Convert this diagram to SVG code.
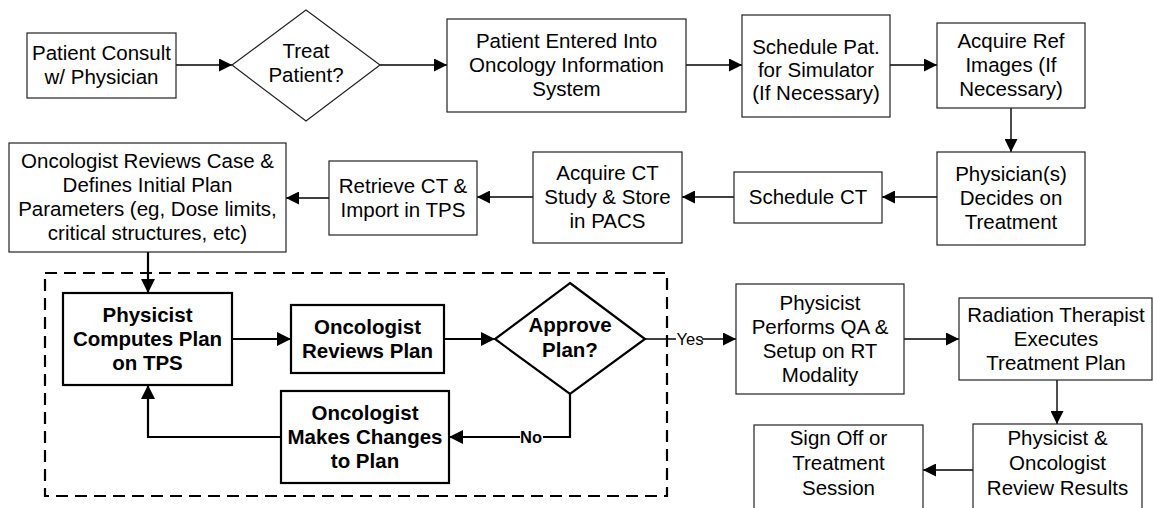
<svg xmlns="http://www.w3.org/2000/svg" width="1153" height="508" viewBox="0 0 1153 508">
  <style>
    .box { fill: #fff; stroke: #222; stroke-width: 1.2; }
    .bbox { fill: #fff; stroke: #000; stroke-width: 2.2; }
    .t { font-family: "Liberation Sans", Arial, sans-serif; font-size: 20.5px; fill: #000; text-anchor: middle; }
    .tb { font-family: "Liberation Sans", Arial, sans-serif; font-size: 20.5px; font-weight: bold; fill: #000; text-anchor: middle; }
    .lbl { font-family: "Liberation Sans", Arial, sans-serif; font-size: 16.5px; fill: #000; text-anchor: middle; }
    .lblb { font-family: "Liberation Sans", Arial, sans-serif; font-size: 16.5px; font-weight: bold; fill: #000; text-anchor: middle; }
    .c { fill: none; stroke: #000; stroke-width: 1.4; marker-end: url(#arr); }
    .cb { fill: none; stroke: #000; stroke-width: 2.2; marker-end: url(#arrB); }
    .dash { fill: none; stroke: #000; stroke-width: 2.2; stroke-dasharray: 12 7; }
  </style>
  <defs>
    <marker id="arr" markerUnits="userSpaceOnUse" markerWidth="14" markerHeight="13" refX="13" refY="6.5" orient="auto">
      <path d="M0,0 L13,6.5 L0,13 Z" fill="#000"/>
    </marker>
    <marker id="arrB" markerUnits="userSpaceOnUse" markerWidth="15" markerHeight="14" refX="14" refY="7" orient="auto">
      <path d="M0,0 L14,7 L0,14 Z" fill="#000"/>
    </marker>
  </defs>

  <rect width="1153" height="508" fill="#fff"/>

  <!-- planning loop enclosure -->
  <rect id="planning-loop" class="dash" x="45" y="273" width="622" height="223"/>

  <g id="connectors">
    <path class="c" d="M176,65 H232"/>
    <path class="c" d="M380,65 H447"/>
    <path class="c" d="M686,65 H742"/>
    <path class="c" d="M890,65 H937"/>
    <path class="c" d="M1011,108 V152"/>
    <path class="c" d="M937,197 H882"/>
    <path class="c" d="M734,197 H682"/>
    <path class="c" d="M533,197 H477"/>
    <path class="c" d="M329,198 H286"/>
    <path class="cb" d="M148,252 V293"/>
    <path class="cb" d="M232,339 H291"/>
    <path class="cb" d="M444,339 H495"/>
    <path class="cb" d="M570,394 V437 H449"/>
    <path class="cb" d="M281,437 H148 V385"/>
    <path class="c" d="M645,339 H736" style="stroke-width:1.5"/>
    <path class="c" d="M904,339 H959"/>
    <path class="c" d="M1057,380 V424"/>
    <path class="c" d="M973,470 H923"/>
    <rect x="676" y="330" width="26" height="18" fill="#fff"/>
    <text class="lbl" x="690" y="345">Yes</text>
    <rect x="520" y="428" width="23" height="18" fill="#fff"/>
    <text class="lblb" x="531" y="443">No</text>
  </g>

  <g id="patient-consult">
    <rect class="box" x="27" y="33" width="149" height="65"/>
    <text class="t" x="101.5" y="60">Patient Consult</text>
    <text class="t" x="101.5" y="84">w/ Physician</text>
  </g>

  <g id="treat-patient">
    <path class="box" d="M306,10 L380,65 L306,121 L232,65 Z"/>
    <text class="t" x="306" y="58">Treat</text>
    <text class="t" x="306" y="82">Patient?</text>
  </g>

  <g id="patient-entered">
    <rect class="box" x="447" y="19" width="239" height="93"/>
    <text class="t" x="566.5" y="48">Patient Entered Into</text>
    <text class="t" x="566.5" y="72">Oncology Information</text>
    <text class="t" x="566.5" y="96">System</text>
  </g>

  <g id="schedule-simulator">
    <rect class="box" x="742" y="15" width="148" height="102"/>
    <text class="t" x="816" y="54">Schedule Pat.</text>
    <text class="t" x="816" y="77">for Simulator</text>
    <text class="t" x="816" y="100">(If Necessary)</text>
  </g>

  <g id="acquire-ref-images">
    <rect class="box" x="937" y="23" width="148" height="85"/>
    <text class="t" x="1011" y="48">Acquire Ref</text>
    <text class="t" x="1011" y="72">Images (If</text>
    <text class="t" x="1011" y="96">Necessary)</text>
  </g>

  <g id="physician-decides">
    <rect class="box" x="937" y="152" width="148" height="93"/>
    <text class="t" x="1011" y="181">Physician(s)</text>
    <text class="t" x="1011" y="205">Decides on</text>
    <text class="t" x="1011" y="229">Treatment</text>
  </g>

  <g id="schedule-ct">
    <rect class="box" x="734" y="172" width="148" height="51"/>
    <text class="t" x="808" y="204">Schedule CT</text>
  </g>

  <g id="acquire-ct">
    <rect class="box" x="533" y="152" width="149" height="91"/>
    <text class="t" x="607.5" y="180">Acquire CT</text>
    <text class="t" x="607.5" y="204">Study &amp; Store</text>
    <text class="t" x="607.5" y="228">in PACS</text>
  </g>

  <g id="retrieve-ct">
    <rect class="box" x="329" y="161" width="148" height="74"/>
    <text class="t" x="403" y="193">Retrieve CT &amp;</text>
    <text class="t" x="403" y="217">Import in TPS</text>
  </g>

  <g id="oncologist-defines">
    <rect class="box" x="9" y="143" width="277" height="109"/>
    <text class="t" x="147.5" y="168">Oncologist Reviews Case &amp;</text>
    <text class="t" x="147.5" y="192">Defines Initial Plan</text>
    <text class="t" x="147.5" y="216">Parameters (eg, Dose limits,</text>
    <text class="t" x="147.5" y="240">critical structures, etc)</text>
  </g>

  <g id="physicist-computes">
    <rect class="bbox" x="63" y="293" width="169" height="92"/>
    <text class="tb" x="147.5" y="322">Physicist</text>
    <text class="tb" x="147.5" y="346">Computes Plan</text>
    <text class="tb" x="147.5" y="370">on TPS</text>
  </g>

  <g id="oncologist-reviews-plan">
    <rect class="bbox" x="291" y="305" width="153" height="68"/>
    <text class="tb" x="367.5" y="334">Oncologist</text>
    <text class="tb" x="367.5" y="358">Reviews Plan</text>
  </g>

  <g id="approve-plan">
    <path class="bbox" d="M570,283 L645,339 L570,394 L495,339 Z"/>
    <text class="tb" x="570" y="332">Approve</text>
    <text class="tb" x="570" y="357">Plan?</text>
  </g>

  <g id="oncologist-changes">
    <rect class="bbox" x="281" y="391" width="168" height="92"/>
    <text class="tb" x="365" y="420">Oncologist</text>
    <text class="tb" x="365" y="444">Makes Changes</text>
    <text class="tb" x="365" y="468">to Plan</text>
  </g>

  <g id="physicist-qa">
    <rect class="box" x="736" y="284" width="168" height="110"/>
    <text class="t" x="820" y="310">Physicist</text>
    <text class="t" x="820" y="334">Performs QA &amp;</text>
    <text class="t" x="820" y="358">Setup on RT</text>
    <text class="t" x="820" y="382">Modality</text>
  </g>

  <g id="therapist-executes">
    <rect class="box" x="959" y="298" width="193" height="82"/>
    <text class="t" x="1056" y="322">Radiation Therapist</text>
    <text class="t" x="1056" y="346">Executes</text>
    <text class="t" x="1056" y="370">Treatment Plan</text>
  </g>

  <g id="review-results">
    <rect class="box" x="973" y="424" width="169" height="100"/>
    <text class="t" x="1057.5" y="445">Physicist &amp;</text>
    <text class="t" x="1057.5" y="470">Oncologist</text>
    <text class="t" x="1057.5" y="495">Review Results</text>
  </g>

  <g id="sign-off">
    <rect class="box" x="754" y="425" width="169" height="100"/>
    <text class="t" x="838.5" y="445">Sign Off or</text>
    <text class="t" x="838.5" y="470">Treatment</text>
    <text class="t" x="838.5" y="495">Session</text>
  </g>
</svg>
